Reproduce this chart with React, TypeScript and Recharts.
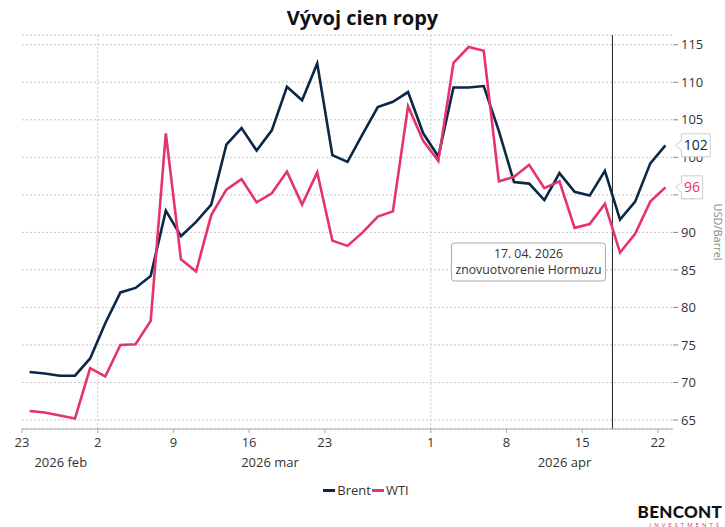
import React from "react";
import {
  CartesianGrid,
  Legend,
  LabelList,
  Line,
  LineChart,
  ReferenceLine,
  XAxis,
  YAxis,
} from "recharts";

// trading days shown on the chart (weekdays only)
const dates = [
  "2026-02-23", "2026-02-24", "2026-02-25", "2026-02-26", "2026-02-27",
  "2026-03-02", "2026-03-03", "2026-03-04", "2026-03-05", "2026-03-06",
  "2026-03-09", "2026-03-10", "2026-03-11", "2026-03-12", "2026-03-13",
  "2026-03-16", "2026-03-17", "2026-03-18", "2026-03-19", "2026-03-20",
  "2026-03-23", "2026-03-24", "2026-03-25", "2026-03-26", "2026-03-27",
  "2026-03-30", "2026-03-31", "2026-04-01", "2026-04-02", "2026-04-03",
  "2026-04-06", "2026-04-07", "2026-04-08", "2026-04-09", "2026-04-10",
  "2026-04-13", "2026-04-14", "2026-04-15", "2026-04-16", "2026-04-17",
  "2026-04-20", "2026-04-21", "2026-04-22",
];

const brent = [
  71.4, 71.2, 70.9, 70.9, 73.2,
  77.9, 82.0, 82.6, 84.2, 92.9,
  89.5, 91.4, 93.7, 101.7, 103.9,
  100.9, 103.6, 109.4, 107.6, 112.5,
  100.3, 99.4, 103.1, 106.7, 107.4,
  108.7, 103.2, 100.1, 109.3, 109.3,
  109.5, 103.5, 96.7, 96.5, 94.3,
  97.9, 95.4, 94.9, 98.2, 91.7,
  94.1, 99.2, 101.6,
];

const wti = [
  66.2, 66.0, 65.6, 65.2, 71.9,
  70.8, 75.0, 75.1, 78.2, 103.2,
  86.4, 84.8, 92.3, 95.7, 97.1,
  94.0, 95.2, 98.1, 93.7, 98.0,
  88.9, 88.2, 90.0, 92.1, 92.8,
  106.8, 102.2, 99.5, 112.6, 114.7,
  114.2, 96.8, 97.4, 99.0, 95.9,
  96.8, 90.6, 91.1, 93.8, 87.3,
  89.8, 94.1, 96.0,
];

const tickDates = [
  "2026-02-23", "2026-03-02", "2026-03-09", "2026-03-16", "2026-03-23",
  "2026-04-01", "2026-04-08", "2026-04-15", "2026-04-22",
];
const monthKeys = ["2026-02", "2026-03", "2026-04"];
const monthLabels = ["2026 feb", "2026 mar", "2026 apr"];
const yTicks = [65, 70, 75, 80, 85, 90, 95, 100, 105, 110, 115];

const eventDate = "2026-04-17";
const eventText = ["17. 04. 2026", "znovuotvorenie Hormuzu"];

const BRENT = "#0b2747";
const WTI = "#e4336f";
const TEXT = "#333";
const FONT = "'Open Sans', sans-serif";

// each day occupies one slot [i, i+1], points sit in the middle
const data = dates.map((d, i) => ({ x: i + 0.5, date: d, brent: brent[i], wti: wti[i] }));
const lastIndex = dates.length - 1;
const dayTicks = tickDates.map((d) => dates.indexOf(d));
const monthStarts = monthKeys.map((m) => dates.findIndex((d) => d.startsWith(m)));
const monthCenters = monthKeys.map((m, k) => {
  const end = k + 1 < monthKeys.length ? monthStarts[k + 1] : dates.length;
  return (monthStarts[k] + end) / 2;
});
const eventX = dates.indexOf(eventDate);

function EventLabel(props: any) {
  const vb = props.viewBox;
  if (!vb) return null;
  const right = vb.x - 7;
  const w = 154;
  const top = vb.y + 208;
  const cx = right - w / 2;
  return (
    <g>
      <rect x={right - w} y={top} width={w} height={38} rx={3} fill="#fff" stroke="#aaa" />
      <text x={cx} y={top + 15} textAnchor="middle" fontSize={12.3} fill={TEXT}>
        {eventText[0]}
      </text>
      <text x={cx} y={top + 30.5} textAnchor="middle" fontSize={12.3} fill={TEXT}>
        {eventText[1]}
      </text>
    </g>
  );
}

function AxisTitle(props: any) {
  const vb = props.viewBox;
  if (!vb) return null;
  const cx = vb.x + vb.width - 7;
  const cy = vb.y + vb.height / 2;
  return (
    <text
      x={cx}
      y={cy}
      transform={`rotate(90, ${cx}, ${cy})`}
      textAnchor="middle"
      dominantBaseline="central"
      fontSize={11}
      fill="#888"
    >
      USD/Barrel
    </text>
  );
}

function EndTag(props: any) {
  const { x, y, index, value, color } = props;
  if (index !== lastIndex || x == null) return null;
  const label = String(Math.round(value));
  const tip = x + 10;
  const left = x + 16;
  const w = label.length * 7.6 + 6;
  const h = 23;
  const top = y - h / 2;
  const d = `M${tip},${y} L${left},${y - 5} L${left},${top} L${left + w},${top} L${left + w},${top + h} L${left},${top + h} L${left},${y + 5} Z`;
  return (
    <g>
      <path d={d} fill="#fff" stroke="#ccc" strokeLinejoin="round" />
      <text x={left + w / 2} y={y + 5} textAnchor="middle" fontSize={14} fill={color}>
        {label}
      </text>
    </g>
  );
}

function LegendContent() {
  const items = [
    { name: "Brent", color: BRENT },
    { name: "WTI", color: WTI },
  ];
  return (
    <div style={{ display: "flex", justifyContent: "center", alignItems: "center", height: 20, paddingLeft: 8, fontSize: 13, color: TEXT }}>
      {items.map((it) => (
        <span key={it.name} style={{ display: "flex", alignItems: "center", marginRight: 1 }}>
          <span style={{ display: "inline-block", width: 12, height: 3, background: it.color, marginRight: 2 }} />
          {it.name}
        </span>
      ))}
    </div>
  );
}

export default function App() {
  return (
    <div style={{ position: "absolute", left: 0, top: 0, width: 725, height: 527, fontFamily: FONT, background: "#fff" }}>
      <div style={{ position: "absolute", left: 0, top: 4, width: 725, textAlign: "center", fontSize: 20, fontWeight: 700, color: "#111" }}>
        Vývoj cien ropy
      </div>
      <LineChart width={725} height={527} data={data} margin={{ top: 35, right: 0, bottom: 27, left: 22 }}>
        <CartesianGrid vertical={false} stroke="#c8c8c8" strokeDasharray="2 2" />
        <XAxis
          dataKey="x"
          type="number"
          domain={[0, dates.length]}
          ticks={dayTicks}
          interval={0}
          tickFormatter={(v) => String(Number(dates[v].slice(8)))}
          tick={{ fill: TEXT, fontSize: 13 }}
          tickSize={4}
          tickMargin={5}
          tickLine={{ stroke: "#aaa" }}
          axisLine={{ stroke: "#aaa" }}
          height={22}
          allowDataOverflow
        />
        <XAxis
          xAxisId="month"
          type="number"
          domain={[0, dates.length]}
          ticks={monthCenters}
          interval={0}
          tickFormatter={(v) => monthLabels[monthCenters.indexOf(v)]}
          tick={{ fill: TEXT, fontSize: 13 }}
          tickSize={0}
          tickMargin={7}
          tickLine={false}
          axisLine={false}
          height={29}
          allowDataOverflow
        />
        <YAxis
          orientation="right"
          domain={[63.8, 116.3]}
          ticks={yTicks}
          interval={0}
          allowDataOverflow
          width={52}
          tick={{ fill: TEXT, fontSize: 13 }}
          tickSize={5}
          tickMargin={3}
          tickLine={{ stroke: "#888" }}
          axisLine={false}
          label={{ content: (p: any) => <AxisTitle {...p} /> }}
        />
        {monthStarts.slice(1).map((m) => (
          <ReferenceLine key={m} x={m} stroke="#c8c8c8" strokeDasharray="2 2" />
        ))}
        <ReferenceLine x={eventX} stroke="#222" strokeWidth={1} label={<EventLabel />} />
        <Legend verticalAlign="bottom" height={20} wrapperStyle={{ left: 0, width: 725 }} content={() => <LegendContent />} />
        <Line
          dataKey="brent"
          name="Brent"
          stroke={BRENT}
          strokeWidth={2.6}
          dot={false}
          isAnimationActive={false}
        >
          <LabelList dataKey="brent" content={(p: any) => <EndTag {...p} color={BRENT} />} />
        </Line>
        <Line
          dataKey="wti"
          name="WTI"
          stroke={WTI}
          strokeWidth={2.6}
          dot={false}
          isAnimationActive={false}
        >
          <LabelList dataKey="wti" content={(p: any) => <EndTag {...p} color={WTI} />} />
        </Line>
      </LineChart>
      <div style={{ position: "absolute", right: 3, top: 503, textAlign: "right", lineHeight: 1 }}>
        <div style={{ fontFamily: "Lato, sans-serif", fontWeight: 900, fontSize: 17, letterSpacing: 0.3, color: "#111" }}>BENCONT</div>
        <div style={{ fontFamily: FONT, fontSize: 6, letterSpacing: 3, color: WTI, marginTop: 2 }}>INVESTMENTS</div>
      </div>
    </div>
  );
}
